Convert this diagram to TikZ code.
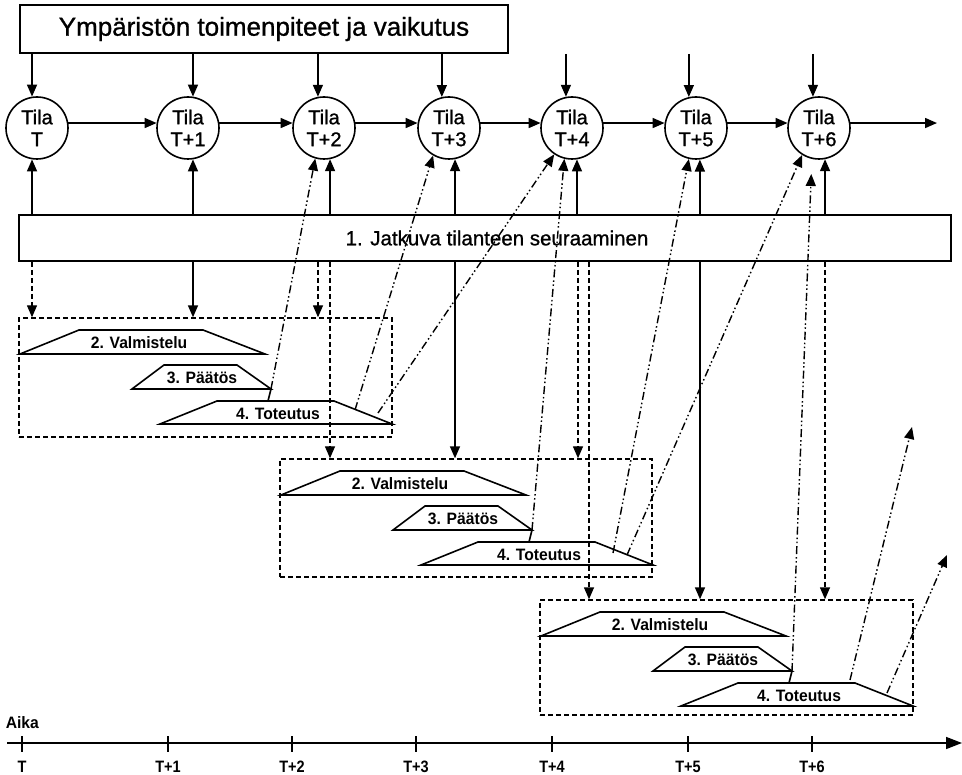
\documentclass[tikz,border=0pt]{standalone}
\usepackage{fontspec}
\setmainfont{Liberation Sans}[FakeBold=0.9]
\newfontfamily\lbold{Liberation Sans}[UprightFont=*-Bold, FakeStretch=0.95]
\newfontfamily\lboldn{Liberation Sans}[UprightFont=*-Bold, FakeStretch=0.88]
\usetikzlibrary{arrows.meta,calc}
\begin{document}
\begin{tikzpicture}[x=1pt,y=-1pt,
  line width=1.6pt,
  arr/.style={-{Triangle[length=12pt,width=10pt]}},
  axarr/.style={-{Triangle[length=16pt,width=12pt]}},
  dsh/.style={dash pattern=on 5pt off 3pt, line width=1.4pt},
  ddot/.style={dash pattern=on 8pt off 3pt on 1.5pt off 2.5pt on 1.5pt off 3pt, line width=1.4pt},
  state/.style={circle, draw, minimum size=62pt, inner sep=0pt, align=center, font=\fontsize{20}{22}\selectfont},
  tlabel/.style={font=\lbold\fontsize{16.5}{18}\selectfont, inner sep=0pt},
  axlabel/.style={font=\lboldn\fontsize{16.5}{18}\selectfont, inner sep=0pt, anchor=base},
  dbox/.style={draw, dsh, inner sep=0pt},
]
\useasboundingbox (0,0) rectangle (962,775);

% top box and monitoring box
\node[draw, minimum width=488pt, minimum height=48pt, inner sep=0pt, font=\fontsize{26}{30}\selectfont] (top) at (264,29) {Ympäristön toimenpiteet ja vaikutus};
\node[draw, minimum width=932pt, minimum height=46pt, inner sep=0pt] (mon) at (485,238) {};
\node[font=\fontsize{20.5}{24}\selectfont, inner sep=0pt] (monlab) at (497,238) {1. Jatkuva tilanteen seuraaminen};

% states
\foreach \i/\x/\t in {0/37/T,1/188/T+1,2/324/T+2,3/449/T+3,4/572/T+4,5/696/T+5,6/819/T+6}
  \node[state] (c\i) at (\x,128) {Tila\\\t};

% horizontal arrows
\foreach \i/\j in {0/1,1/2,2/3,3/4,4/5,5/6}
  \draw[arr] (c\i.9) -- (c\j.171);
\coordinate (hend) at (937,123);
\draw[arr] (c6.9) -- (c6.9 -| hend);

% arrows from environment
\foreach \i/\a in {0/99,1/81,2/101,3/103,4/101,5/103,6/101}
  \draw[arr] (c\i.\a |- top.south) -- (c\i.\a);

% arrows from monitoring up to states
\foreach \i/\a in {0/261,1/279,2/281,3/281,4/279,5/277,6/281}
  \draw[arr] (c\i.\a |- mon.north) -- (c\i.\a);

% dashed process boxes
\node[dbox, minimum width=373pt, minimum height=119pt] (b1) at (205.5,377.5) {};
\node[dbox, minimum width=372pt, minimum height=118pt] (b2) at (466,518) {};
\node[dbox, minimum width=373pt, minimum height=115pt] (b3) at (726.5,657.5) {};

% trapezoids
\foreach \k/\dx/\dy in {1/0/0,2/261/141,3/521/282}{
  \begin{scope}[shift={(\dx,\dy)}]
    \draw (20,354) -- (79,330) -- (203,330) -- (265,354) -- cycle;
    \draw (132,389) -- (164,365) -- (237,365) -- (271,389) -- cycle;
    \draw (160,424) -- (217,401) -- (334,401) -- (392,424) -- cycle;
    \node[tlabel] (val\k) at (139,343) {2. Valmistelu};
    \node[tlabel] (paa\k) at (202,378) {3. Päätös};
    \node[tlabel] (tot\k) at (278,414) {4. Toteutus};
    \coordinate (pd\k) at (271,389);
    \coordinate (pt\k) at (268,401);
    \draw (pd\k) -- (pt\k);
  \end{scope}
}

% arrows from monitoring down to process boxes
\foreach \xx/\st/\tg in {32/dsh/b1,193/solid/b1,318/dsh/b1,330/dsh/b2,455/solid/b2,578/dsh/b2,589/dsh/b3,700/solid/b3,825/dsh/b3}{
  \coordinate (d\xx) at (\xx,0);
  \draw[arr,\st] (d\xx |- mon.south) -- (d\xx |- \tg.north);
}

% dash-dot effect arrows
\coordinate (s1b) at (355,410);
\coordinate (s1c) at (378,413);
\coordinate (s2e) at (613,553);
\coordinate (s2f) at (627,555);
\coordinate (s3h) at (850,680);
\coordinate (s3i) at (887,693);
\coordinate (e3h) at (912,427);
\coordinate (e3i) at (947,555);
\draw[arr,ddot] (pd1) -- (c2.254);
\draw[arr,ddot] (s1b) -- (c3.240);
\draw[arr,ddot] (s1c) -- (c4.236);
\draw[arr,ddot] (pd2) -- (c4.256);
\draw[arr,ddot] (s2e) -- (c5.257);
\draw[arr,ddot] (s2f) -- (c6.238);
\draw[arr,ddot,shorten >=15pt] (pd3) -- (c6.257);
\draw[arr,ddot] (s3h) -- (e3h);
\draw[arr,ddot] (s3i) -- (e3i);

% time axis
\coordinate (ax0) at (7,743);
\coordinate (ax1) at (962,743);
\draw[axarr] (ax0) -- (ax1);
\node[tlabel, anchor=west] (aika) at (5,723) {Aika};
\foreach \i/\x/\t in {0/22/T,1/168/T+1,2/292/T+2,3/416/T+3,4/552/T+4,5/688/T+5,6/812/T+6}{
  \coordinate (tka\i) at (\x,736);
  \coordinate (tkb\i) at (\x,752);
  \draw[line width=1.4pt] (tka\i) -- (tkb\i);
  \node[axlabel] (tl\i) at (\x,772) {\t};
}
\end{tikzpicture}
\end{document}
